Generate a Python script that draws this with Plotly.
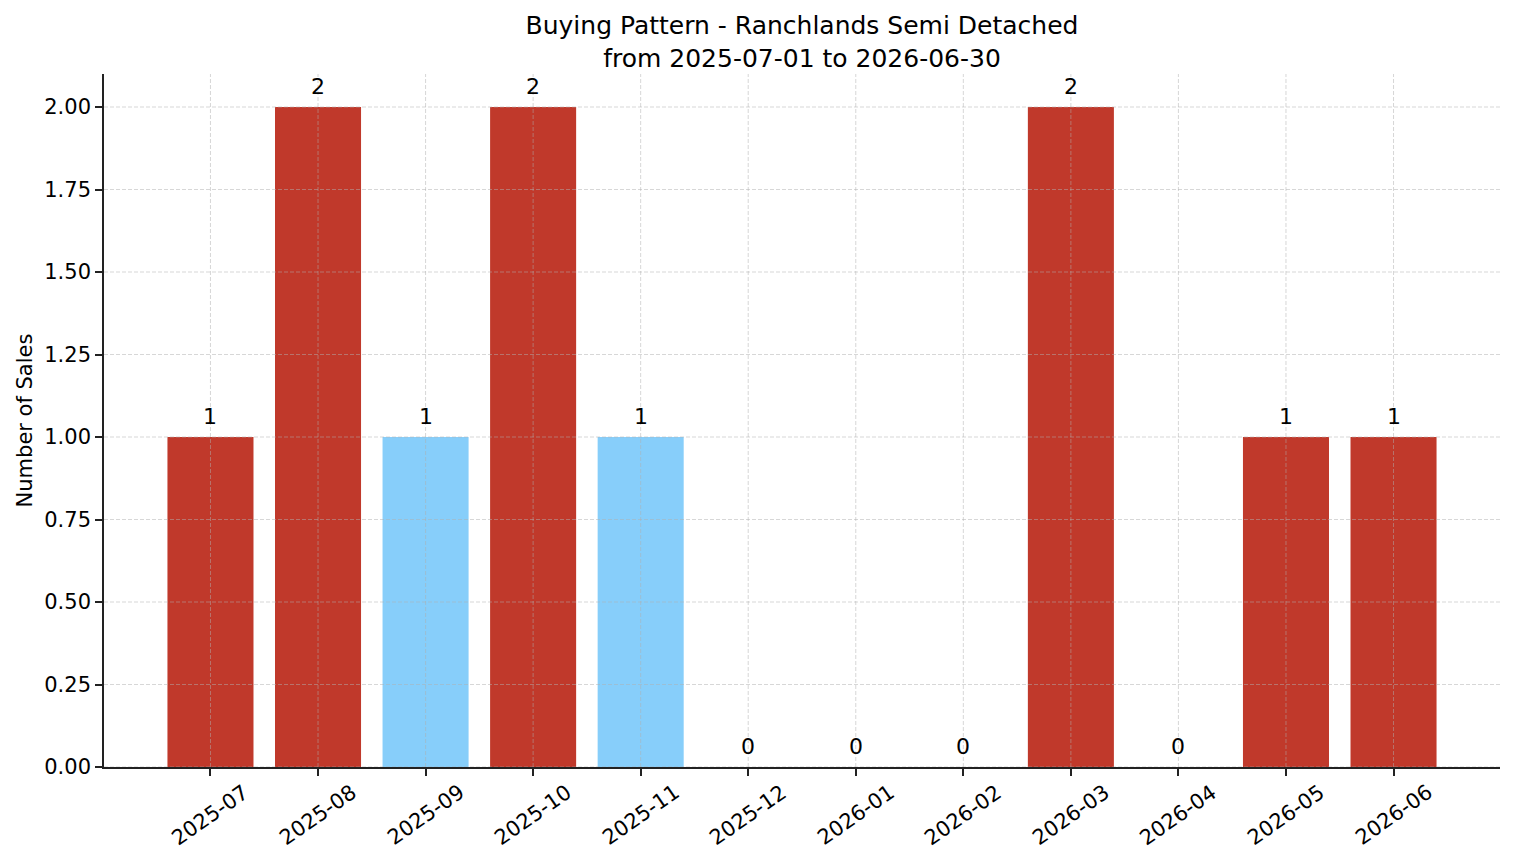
import plotly.graph_objects as go

months = ["2025-07", "2025-08", "2025-09", "2025-10", "2025-11", "2025-12",
          "2026-01", "2026-02", "2026-03", "2026-04", "2026-05", "2026-06"]
sales = [1, 2, 1, 2, 1, 0, 0, 0, 2, 0, 1, 1]
highlight_months = ["2025-09", "2025-11"]
y_ticks = [0, 0.25, 0.5, 0.75, 1.0, 1.25, 1.5, 1.75, 2.0]

RED = "#c0392b"
BLUE = "#87cefa"
colors = [BLUE if m in highlight_months else RED for m in months]
FONT = "DejaVu Sans"

fig = go.Figure()
fig.add_trace(go.Bar(
    x=months, y=sales, width=0.8, marker=dict(color=colors, line=dict(width=0)),
    cliponaxis=False,
))

shapes = []
grid_line = dict(color="rgba(176,176,176,0.5)", width=1, dash="4px,2px")
for m in months:
    shapes.append(dict(type="line", xref="x", yref="paper", x0=m, x1=m, y0=0, y1=1,
                       line=grid_line, layer="above"))
for t in y_ticks:
    shapes.append(dict(type="line", xref="paper", yref="y", x0=0, x1=1, y0=t, y1=t,
                       line=grid_line, layer="above"))

annotations = []
for m in months:
    annotations.append(dict(x=m, y=0, xref="x", yref="paper", text=m, showarrow=False,
                            xanchor="center", yanchor="top", textangle=-35, yshift=-10,
                            font=dict(family=FONT, size=21, color="black")))
for m, v in zip(months, sales):
    annotations.append(dict(x=m, y=v, xref="x", yref="y", text=str(v), showarrow=False,
                            xanchor="center", yanchor="bottom", yshift=6,
                            font=dict(family=FONT, size=22, color="black")))

fig.update_layout(
    width=1514, height=863,
    margin=dict(l=104, r=14, t=74, b=96),
    plot_bgcolor="white", paper_bgcolor="white",
    font=dict(family=FONT, size=21, color="black"),
    title=dict(text="Buying Pattern - Ranchlands Semi Detached<br>from 2025-07-01 to 2026-06-30",
               x=0.5, xref="paper", xanchor="center", y=1 - 34 / 863, yref="container",
               yanchor="top", font=dict(family=FONT, size=25, color="black")),
    showlegend=False,
    shapes=shapes,
    annotations=annotations,
    bargap=0.2,
)
fig.update_xaxes(type="category", range=[-0.99, 11.99], showgrid=False, showline=True,
                 linecolor="#222", linewidth=1.6, ticks="outside", ticklen=7, tickwidth=1.6,
                 tickcolor="#222", showticklabels=False, zeroline=False)
fig.update_yaxes(range=[0, 2.1], tickvals=y_ticks, tickformat=".2f", showgrid=False,
                 showline=True, linecolor="#222", linewidth=1.6, ticks="outside", ticklen=7,
                 tickwidth=1.6, tickcolor="#222", zeroline=False,
                 tickfont=dict(family=FONT, size=21, color="black"),
                 title=dict(text="Number of Sales", standoff=6,
                            font=dict(family=FONT, size=21, color="black")))

fig.write_html("out.html")
